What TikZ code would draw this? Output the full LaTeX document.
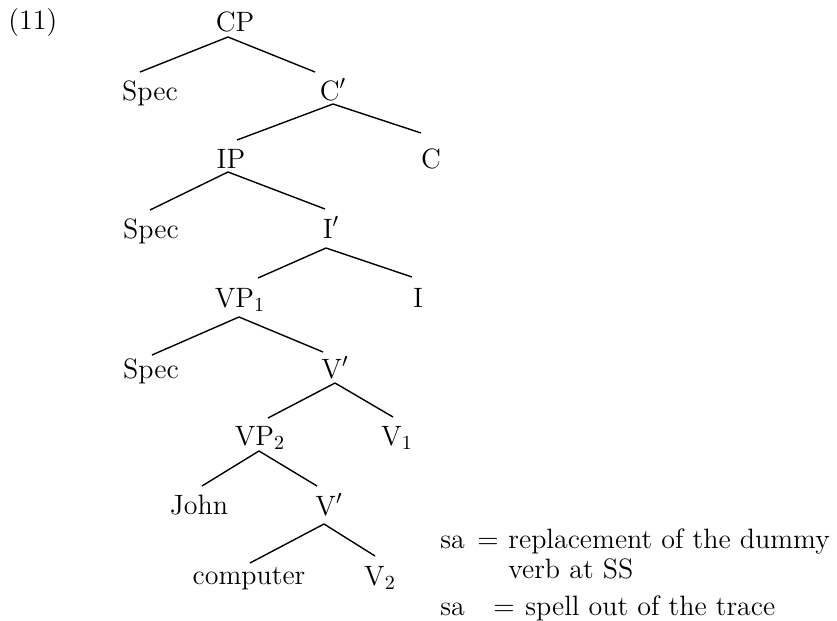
\documentclass[tikz,border=0pt]{standalone}
\usetikzlibrary{positioning}
\tikzset{
  cat/.style={anchor=base,inner sep=0pt,font=\fontsize{14}{17}\selectfont},
  lab/.style={cat,anchor=base west},
  br/.style={line width=0.7pt,draw=black},
}
\begin{document}
\begin{tikzpicture}[x=0.5pt,y=-0.5pt]
\useasboundingbox (0,0) rectangle (837,621);
\node[lab] (ex) at (8,30) {(11)};
% categories, one row per level
\node[cat] (cp) at (235,32) {CP};
\node[cat] (spa) at (150,100) {Spec};
\node[cat] (cbar) at (333,100) {C$'$};
\node[cat] (ip) at (231,168) {IP};
\node[cat] (c) at (431,168) {C};
\node[cat] (spb) at (151,238) {Spec};
\node[cat] (ibar) at (331,238) {I$'$};
\node[cat] (vpa) at (240,307) {VP$_1$};
\node[cat] (i) at (418,307) {I};
\node[cat] (spc) at (151,378) {Spec};
\node[cat] (vbara) at (335,378) {V$'$};
\node[cat] (vpb) at (260,445) {VP$_2$};
\node[cat] (va) at (397,445) {V$_1$};
\node[cat] (john) at (199,514) {John};
\node[cat] (vbarb) at (329,515) {V$'$};
\node[cat] (comp) at (249,584) {computer};
\node[cat] (vb) at (380,585) {V$_2$};
% branches
\draw[br] ([shift={(-7,5)}]cp.base) -- ([shift={(-10,-28)}]spa.base);
\draw[br] ([shift={(-7,5)}]cp.base) -- ([shift={(-18,-28)}]cbar.base);
\draw[br] ([shift={(0,4)}]cbar.base) -- ([shift={(6,-28)}]ip.base);
\draw[br] ([shift={(0,4)}]cbar.base) -- ([shift={(-10,-35)}]c.base);
\draw[br] ([shift={(-3,4)}]ip.base) -- ([shift={(-1,-28)}]spb.base);
\draw[br] ([shift={(-3,4)}]ip.base) -- ([shift={(-6,-29)}]ibar.base);
\draw[br] ([shift={(-5,10)}]ibar.base) -- ([shift={(18,-29)}]vpa.base);
\draw[br] ([shift={(-5,10)}]ibar.base) -- ([shift={(-6,-30)}]i.base);
\draw[br] ([shift={(-1,10)}]vpa.base) -- ([shift={(1,-23)}]spc.base);
\draw[br] ([shift={(-1,10)}]vpa.base) -- ([shift={(-12,-26)}]vbara.base);
\draw[br] ([shift={(0,5)}]vbara.base) -- ([shift={(8,-27)}]vpb.base);
\draw[br] ([shift={(0,5)}]vbara.base) -- ([shift={(-4,-28)}]va.base);
\draw[br] ([shift={(-1,6)}]vpb.base) -- ([shift={(3,-28)}]john.base);
\draw[br] ([shift={(-1,6)}]vpb.base) -- ([shift={(-12,-29)}]vbarb.base);
\draw[br] ([shift={(-5,9)}]vbarb.base) -- ([shift={(1,-21)}]comp.base);
\draw[br] ([shift={(-5,9)}]vbarb.base) -- ([shift={(-5,-29)}]vb.base);
% notes
\node[lab] (saa) at (440,548) {sa};
\node[lab] (eqa) at (477,548) {=};
\node[lab] (defa) at (508,548) {replacement of the dummy};
\node[lab] (defb) at (508,578) {verb at SS};
\node[lab] (sab) at (440,615) {sa};
\node[lab] (eqb) at (493,615) {=};
\node[lab] (defc) at (525,615) {spell out of the trace};
\end{tikzpicture}
\end{document}
